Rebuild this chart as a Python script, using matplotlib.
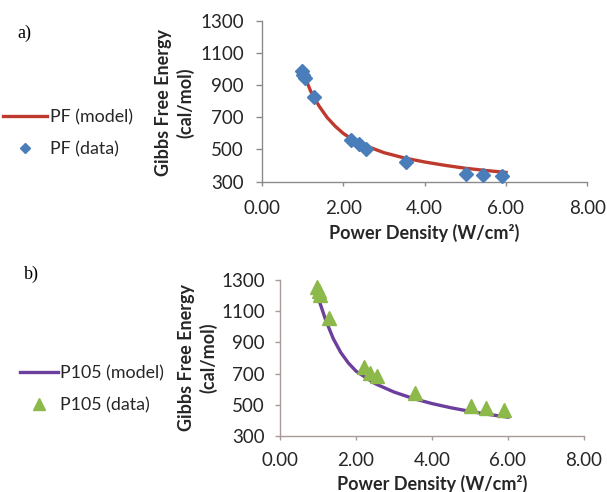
import numpy as np
import matplotlib
matplotlib.use("Agg")
import matplotlib.pyplot as plt
from matplotlib.ticker import FormatStrFormatter
from matplotlib.lines import Line2D

plt.rcParams['font.family'] = ['Lato', 'DejaVu Sans']

# measured power densities (W/cm2), same for both polymers
power = [0.98, 1.02, 1.06, 1.28, 2.20, 2.38, 2.56, 3.55, 5.02, 5.43, 5.90]
pf_data = [990, 966, 945, 827, 556, 533, 506, 422, 350, 342, 332]
p105_data = [1255, 1230, 1205, 1054, 740, 706, 682, 573, 493, 478, 466]

# model curves
pf_model_x = [1.0, 1.2, 1.4, 1.6, 1.8, 2.0, 2.2, 2.5, 3.0, 3.5, 4.0, 4.5, 5.0, 5.5, 6.0]
pf_model_y = [985, 862, 772, 700, 645, 600, 566, 528, 480, 447, 422, 401, 383, 369, 357]
p105_model_x = [1.0, 1.2, 1.4, 1.6, 1.8, 2.0, 2.5, 3.0, 3.5, 4.0, 4.5, 5.0, 5.5, 6.0]
p105_model_y = [1190, 1045, 925, 835, 768, 716, 636, 582, 541, 508, 481, 458, 438, 421]

xticks = [0, 2, 4, 6, 8]
yticks = [300, 500, 700, 900, 1100, 1300]

fig = plt.figure(figsize=(6.07, 4.92), dpi=100)

ax1 = fig.add_axes([0.4316, 0.631, 0.536, 0.326])
ax2 = fig.add_axes([0.4613, 0.1138, 0.5008, 0.317])

# ax, model x/y, data, line colour, marker colour, marker, size, axis colour, x pad, y pad, y tick length
panels = [
    (ax1, pf_model_x, pf_model_y, pf_data, '#BE3A2E', '#4A7EBB', 'D', 7.3, '#8E8A8A', 10.0, 8.4, 4.5),
    (ax2, p105_model_x, p105_model_y, p105_data, '#6C3F9C', '#8DB84A', '^', 10, '#A99A9A', 8.6, 7.2, 3.6),
]

for ax, mx, my, yd, lc, mc, mk, ms, axc, xpad, ypad, ylen in panels:
    ax.plot(mx, my, color=lc, lw=2.4, zorder=2)
    ax.plot(power, yd, linestyle='none', marker=mk, ms=ms, color=mc,
            markeredgecolor=mc, zorder=3, clip_on=False)
    ax.set_xlim(0, 8)
    ax.set_ylim(300, 1300)
    ax.set_xticks(xticks)
    ax.set_yticks(yticks)
    ax.xaxis.set_major_formatter(FormatStrFormatter('%.2f'))
    for s in ['top', 'right']:
        ax.spines[s].set_visible(False)
    for s in ['left', 'bottom']:
        ax.spines[s].set_color(axc)
        ax.spines[s].set_linewidth(1.0)
    ax.tick_params(axis='x', direction='out', length=3, width=1.0, color=axc,
                   labelsize=13.5, labelcolor='#262626', pad=xpad)
    ax.tick_params(axis='y', direction='out', length=ylen, width=1.0, color=axc,
                   labelsize=13.5, labelcolor='#262626', pad=ypad)

# axis titles
ylab = 'Gibbs Free Energy\n(cal/mol)'
xlab = 'Power Density (W/cm²)'
fig.text(0.2883, 0.7917, ylab, rotation=90, ha='center', va='center',
         fontsize=13, fontweight='bold', color='#262626', linespacing=1.3)
fig.text(0.3254, 0.2724, ylab, rotation=90, ha='center', va='center',
         fontsize=13, fontweight='bold', color='#262626', linespacing=1.3)
fig.text(0.6996, 0.5264, xlab, ha='center', va='center',
         fontsize=13, fontweight='bold', color='#262626')
fig.text(0.7117, 0.0163, xlab, ha='center', va='center',
         fontsize=13, fontweight='bold', color='#262626')

# panel letters
fig.text(0.0395, 0.933, 'a)', fontsize=13, family='Liberation Serif', ha='center', va='center')
fig.text(0.051, 0.443, 'b)', fontsize=13, family='Liberation Serif', ha='center', va='center')

# legends sit to the left of each plot
h1 = [Line2D([], [], color='#BE3A2E', lw=2.4),
      Line2D([], [], linestyle='none', marker='D', ms=5.5, color='#4A7EBB')]
fig.legend(h1, ['PF (model)', 'PF (data)'], loc='upper left',
           bbox_to_anchor=(0.005, 0.778), frameon=False, fontsize=12.8,
           handlelength=2.5, handletextpad=0.12, labelspacing=0.9,
           borderpad=0, borderaxespad=0, labelcolor='#262626')
h2 = [Line2D([], [], color='#6C3F9C', lw=2.4),
      Line2D([], [], linestyle='none', marker='^', ms=8, color='#8DB84A')]
fig.legend(h2, ['P105 (model)', 'P105 (data)'], loc='upper left',
           bbox_to_anchor=(0.033, 0.258), frameon=False, fontsize=12.8,
           handlelength=2.13, handletextpad=0.12, labelspacing=0.9,
           borderpad=0, borderaxespad=0, labelcolor='#262626')

fig.savefig('out.png', dpi=100)
